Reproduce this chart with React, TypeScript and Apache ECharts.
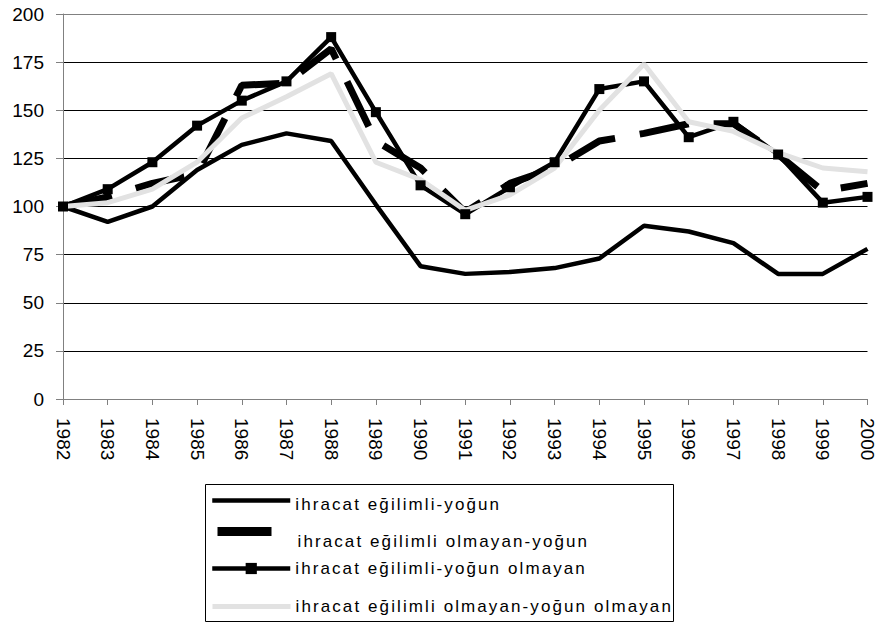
import React, { useEffect, useRef } from "react";
import * as echarts from "echarts";

const years = ["1982", "1983", "1984", "1985", "1986", "1987", "1988", "1989", "1990", "1991", "1992", "1993", "1994", "1995", "1996", "1997", "1998", "1999", "2000"];

const seriesNames = [
  "ihracat eğilimli-yoğun",
  "ihracat eğilimli olmayan-yoğun",
  "ihracat eğilimli-yoğun olmayan",
  "ihracat eğilimli olmayan-yoğun olmayan",
];

const intensiveExport = [100, 92, 100, 119, 132, 138, 134, 101, 69, 65, 66, 68, 73, 90, 87, 81, 65, 65, 78];
const intensiveNonExport = [100, 105, 112, 117, 163, 164, 182, 134, 120, 97, 112, 120, 134, 138, 143, 143, 127, 108, 112];
const nonIntensiveExport = [100, 109, 123, 142, 155, 165, 188, 149, 111, 96, 110, 123, 161, 165, 136, 144, 127, 102, 105];
const nonIntensiveNonExport = [100, 102, 109, 123, 146, 157, 169, 123, 114, 98, 106, 120, 150, 174, 144, 139, 128, 120, 118];

const css = `text[style*="Arial"]{letter-spacing:2.1px;}`;

export default function App() {
  const ref = useRef<HTMLDivElement>(null);

  useEffect(() => {
    if (!ref.current) return;
    const chart = echarts.init(ref.current, null, { renderer: "svg" });
    const legendFont = "Liberation Sans, Arial";
    const legendTops = [495, 526, 560, 598];
    const textPads = [8, 20, 0, 0];
    const lineStyles: any[] = [
      { color: "#000", width: 4.5 },
      { color: "#000", width: 9, type: [54, 40], dashOffset: -3, cap: "butt" },
      { color: "#000", width: 4.5 },
      { color: "#e2e2e2", width: 5 },
    ];
    const legends = seriesNames.map((n, i) => {
      const l: any = {
        data: [n],
        left: 210,
        top: legendTops[i],
        padding: 0,
        itemWidth: 78,
        itemHeight: 14,
        selectedMode: false,
        lineStyle: lineStyles[i],
        itemStyle: i === 2 ? { color: "#000" } : { opacity: 0 },
        textStyle: {
          fontFamily: legendFont,
          fontSize: 17,
          color: "#000",
        },
      };
      if (textPads[i] > 0) {
        l.formatter = "{t|{name}}";
        l.textStyle.rich = {
          t: {
            fontFamily: legendFont,
            fontSize: 17,
            color: "#000",
            padding: [textPads[i], 0, 0, 0],
          },
        };
      }
      return l;
    });

    const option: any = {
      animation: false,
      backgroundColor: "#fff",
      grid: { left: 63, right: 9, top: 14, bottom: 227, containLabel: false },
      legend: legends,
      graphic: [
        {
          type: "rect",
          shape: { x: 205.5, y: 484.5, width: 468, height: 137 },
          style: { fill: "none", stroke: "#000", lineWidth: 1 },
          z: 1,
        },
      ],
      xAxis: {
        type: "category",
        data: years,
        boundaryGap: false,
        axisLine: { lineStyle: { color: "#808080", width: 1 } },
        axisTick: { show: true, length: 6, lineStyle: { color: "#808080" } },
        axisLabel: {
          rotate: -90,
          margin: 19,
          interval: 0,
          color: "#000",
          fontSize: 19,
          fontFamily: "Liberation Sans",
        },
      },
      yAxis: {
        type: "value",
        min: 0,
        max: 200,
        interval: 25,
        axisLine: { show: true, lineStyle: { color: "#808080", width: 1 } },
        axisTick: { show: true, length: 7, lineStyle: { color: "#808080" } },
        axisLabel: {
          margin: 19,
          color: "#000",
          fontSize: 19,
          fontFamily: "Liberation Sans",
        },
        splitLine: {
          show: true,
          lineStyle: {
            color: ["#808080", "#000", "#000", "#000", "#000", "#000", "#000", "#000", "#808080"],
            width: 1,
          },
        },
      },
      series: [
        {
          name: seriesNames[0],
          type: "line",
          data: intensiveExport,
          symbol: "none",
          lineStyle: { color: "#000", width: 4.5 },
          itemStyle: { color: "#000" },
        },
        {
          name: seriesNames[1],
          type: "line",
          data: intensiveNonExport,
          symbol: "none",
          lineStyle: { color: "#000", width: 7, type: [50, 25], cap: "butt" },
          itemStyle: { color: "#000" },
        },
        {
          name: seriesNames[2],
          type: "line",
          data: nonIntensiveExport,
          symbol: "rect",
          symbolSize: 10,
          lineStyle: { color: "#000", width: 4.5 },
          itemStyle: { color: "#000" },
        },
        {
          name: seriesNames[3],
          type: "line",
          data: nonIntensiveNonExport,
          symbol: "none",
          lineStyle: { color: "#e2e2e2", width: 5 },
          itemStyle: { color: "#e2e2e2" },
        },
      ],
    };
    chart.setOption(option);
    return () => chart.dispose();
  }, []);

  return (
    <>
      <style>{css}</style>
      <div
        ref={ref}
        style={{ position: "fixed", left: 0, top: 0, width: 877, height: 626, background: "#fff" }}
      />
    </>
  );
}
